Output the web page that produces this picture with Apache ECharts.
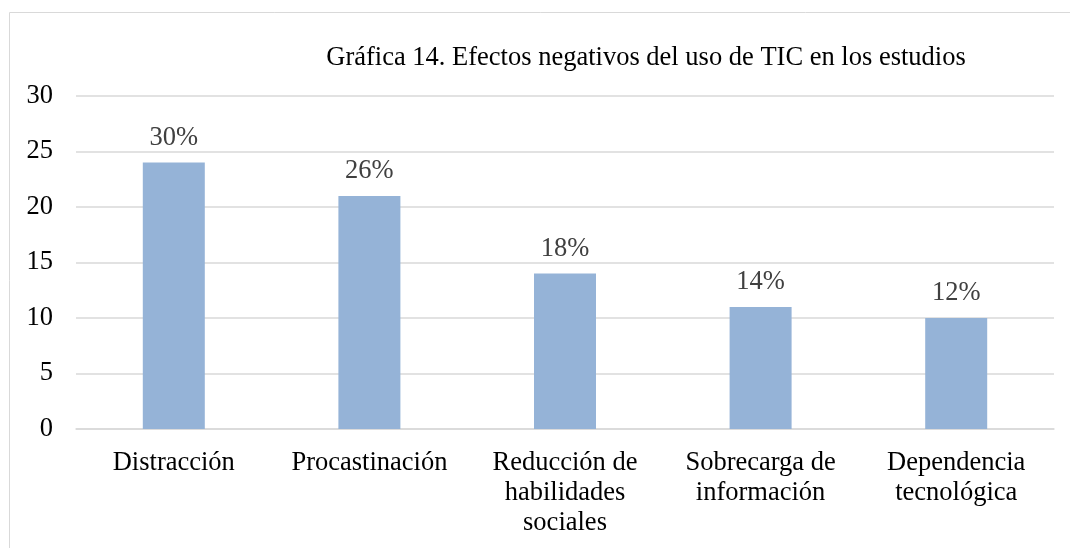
<!DOCTYPE html>
<html>
<head>
<meta charset="utf-8">
<script src="https://cdn.jsdelivr.net/npm/echarts@6/dist/echarts.min.js"></script>
<style>
  html, body { margin: 0; padding: 0; background: #fff; }
  #chart { width: 1070px; height: 548px; }
</style>
</head>
<body>
<div id="chart"></div>
<script>
const categories = ['Distracción', 'Procastinación', 'Reducción de\nhabilidades\nsociales', 'Sobrecarga de\ninformación', 'Dependencia\ntecnológica']
const values = [24, 21, 14, 11, 10]
const percentLabels = ['30%', '26%', '18%', '14%', '12%']
const yTicks = { min: 0, max: 30, interval: 5 }

const font = '"Liberation Serif", "Times New Roman", serif'

const myChart = echarts.init(document.getElementById('chart'))
const option = {
    animation: false,
    title: {
        text: 'Gráfica 14. Efectos negativos del uso de TIC en los estudios',
        left: 641,
        textAlign: 'center',
        top: 40,
        textStyle: { fontFamily: font, fontSize: 26.5, fontWeight: 'normal', color: '#000' }
    },
    graphic: [{
        type: 'rect',
        shape: { x: 9.5, y: 12.5, width: 1100, height: 600 },
        style: { fill: 'none', stroke: '#d9d9d9', lineWidth: 1 },
        silent: true
    }],
    grid: { left: 76, right: 16, top: 96, bottom: 119 },
    xAxis: {
        type: 'category',
        data: categories,
        axisLine: { lineStyle: { color: '#d9d9d9', width: 1.5 } },
        axisTick: { show: false },
        axisLabel: {
            fontFamily: font, fontSize: 26.5, color: '#000',
            lineHeight: 30, margin: 19, interval: 0
        }
    },
    yAxis: {
        type: 'value',
        min: yTicks.min,
        max: yTicks.max,
        interval: yTicks.interval,
        axisLine: { show: false },
        axisTick: { show: false },
        splitLine: { lineStyle: { color: '#d9d9d9', width: 1.5 } },
        axisLabel: { fontFamily: font, fontSize: 26.5, color: '#000', margin: 23 }
    },
    series: [{
        type: 'bar',
        data: values,
        barWidth: 62,
        itemStyle: { color: '#95b3d7' },
        label: {
            show: true,
            position: 'top',
            distance: 11,
            fontFamily: font,
            fontSize: 26.5,
            color: '#404040',
            formatter: p => percentLabels[p.dataIndex]
        }
    }]
}
myChart.setOption(option)
</script>
</body>
</html>
